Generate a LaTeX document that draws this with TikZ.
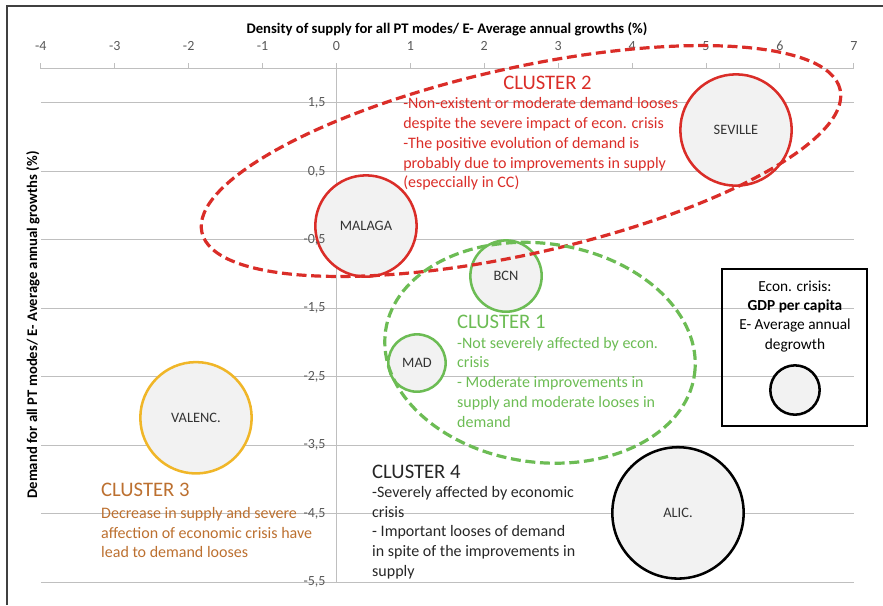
\documentclass[tikz,border=0pt]{standalone}
\usepackage{fontspec}
\setmainfont{Carlito}
\usepackage{tikz}
\usetikzlibrary{positioning}
\definecolor{clred}{RGB}{218,45,40}
\definecolor{clgreen}{RGB}{108,188,84}
\definecolor{clbrown}{RGB}{188,112,48}
\definecolor{clyellow}{RGB}{240,182,40}
\definecolor{bubblefill}{RGB}{242,242,242}
\definecolor{gridgray}{RGB}{191,191,191}
\definecolor{labelgray}{RGB}{89,89,89}
\tikzset{
    %Define style for city bubbles
    city/.style={circle, inner sep=0pt, line width=1.9pt, fill=bubblefill, text=black!80, font=\fontsize{10.8}{12}\selectfont},
    %Define style for dashed cluster outlines
    cluster/.style={line width=2.4pt, dash pattern=on 7.5pt off 3.5pt},
    %Define style for cluster headings and remarks
    heading/.style={anchor=west, inner sep=0pt, font=\fontsize{15.5}{18}\selectfont},
    remark/.style={anchor=west, align=left, inner sep=0pt, font=\fontsize{12}{14.8}\selectfont},
    %Define style for axes
    gridline/.style={gridgray, line width=0.75pt},
    ticklabel/.style={inner sep=0pt, text=labelgray, font=\fontsize{10.5}{12}\selectfont},
    axistitle/.style={inner sep=0pt, font=\bfseries\fontsize{11}{13}\selectfont},
    legendtext/.style={align=center, inner sep=0pt, font=\fontsize{11.5}{14.5}\selectfont},
}

\begin{document}
\begin{tikzpicture}[x=55.425pt, y=51.32pt]
    \useasboundingbox (-4.553,3.005) rectangle (7.395,-5.837);
    \draw[line width=1.5pt, black!75] (-4.459,-5.837) -- (-4.459,2.917) -- (7.395,2.917);

    % grid and axes
    \foreach \y in {1.5,0.5,...,-5.5}
        \draw[gridline] (-4,\y) -- (7,\y);
    \draw[gridline] (0,2) -- (0,-5.5);
    \draw[gridline] (-4,2) -- (7,2);
    \foreach \x [count=\i] in {-4,...,7}{
        \draw[gridline] (\x,2) -- ++(0,4pt);
        \node[ticklabel] (xlab\i) at (\x,2.332) {\x};
    }
    \node[axistitle] (xtitle) at (1.495,2.581) {Density of supply for all PT modes/ E- Average annual growths (\%)};
    \node[axistitle, rotate=90] (ytitle) at (-4.107,-1.744) {Demand for all PT modes/ E- Average annual growths (\%)};

    % bubbles
    \node[city, draw=clred, minimum size=76pt] (malaga) at (0.399,-0.298) {MALAGA};
    \node[city, draw=clred, minimum size=83.5pt] (seville) at (5.406,1.105) {SEVILLE};
    \node[city, draw=clgreen, minimum size=53.5pt] (bcn) at (2.294,-1.029) {BCN};
    \node[city, draw=clgreen, minimum size=43pt] (mad) at (1.089,-2.30) {MAD};
    \node[city, draw=clyellow, minimum size=83.5pt] (valenc) at (-1.901,-3.10) {VALENC.};
    \node[city, draw=black, minimum size=98.5pt] (alic) at (4.621,-4.49) {ALIC.};

    % value labels lie over the bubbles
    \foreach \y/\lab [count=\i] in {1.5/{1,5},0.5/{0,5},-0.5/{-0,5},-1.5/{-1,5},-2.5/{-2,5},-3.5/{-3,5},-4.5/{-4,5},-5.5/{-5,5}}
        \node[ticklabel, anchor=east] (ylab\i) at ([xshift=-8pt]0,\y) {\lab};

    % clusters
    \coordinate (c2) at (2.497,0.652);
    \draw[cluster, clred, rotate around={12.6:(c2)}] (c2) ellipse [x radius=245.25pt, y radius=69.75pt];
    \coordinate (c1) at (2.754,-2.150);
    \draw[cluster, clgreen, rotate around={-8:(c1)}] (c1) ellipse [x radius=117pt, y radius=82pt];

    \node[heading, text=clred] (head2) at (2.253,1.792) {CLUSTER 2};
    \node[remark, text=clred] (text2) at (0.900,0.899) {-Non-existent or moderate demand looses\\despite the severe impact of econ. crisis\\-The positive evolution of demand is\\probably due to  improvements in supply\\(especcially in CC)};
    \node[heading, text=clgreen] (head1) at (1.630,-1.701) {CLUSTER 1};
    \node[remark, text=clgreen] (text1) at (1.630,-2.580) {-Not severely affected by econ.\\crisis\\- Moderate improvements in\\supply and  moderate looses in\\demand};
    \node[heading, text=clbrown] (head3) at (-3.187,-4.156) {CLUSTER 3};
    \node[remark, text=clbrown] (text3) at (-3.187,-4.777) {Decrease in supply and severe\\affection of economic crisis have\\lead to demand  looses};
    \node[heading, text=black!85] (head4) at (0.480,-3.893) {CLUSTER 4};
    \node[remark, text=black!85] (text4) at (0.480,-4.777) {-Severely affected by economic\\crisis\\- Important looses of demand\\in spite of the improvements in\\supply};

    % legend
    \node[draw, line width=1.1pt, minimum width=108.75pt, minimum height=117.75pt, inner sep=0pt] (legend) at (6.198,-2.074) {};
    \node[legendtext] (legtext) at (6.204,-1.616) {Econ. crisis:\\\textbf{GDP per capita}\\E- Average annual\\degrowth};
    \node[city, draw=black, minimum size=37pt, below=9pt of legtext] (legcircle) {};
\end{tikzpicture}
\end{document}
